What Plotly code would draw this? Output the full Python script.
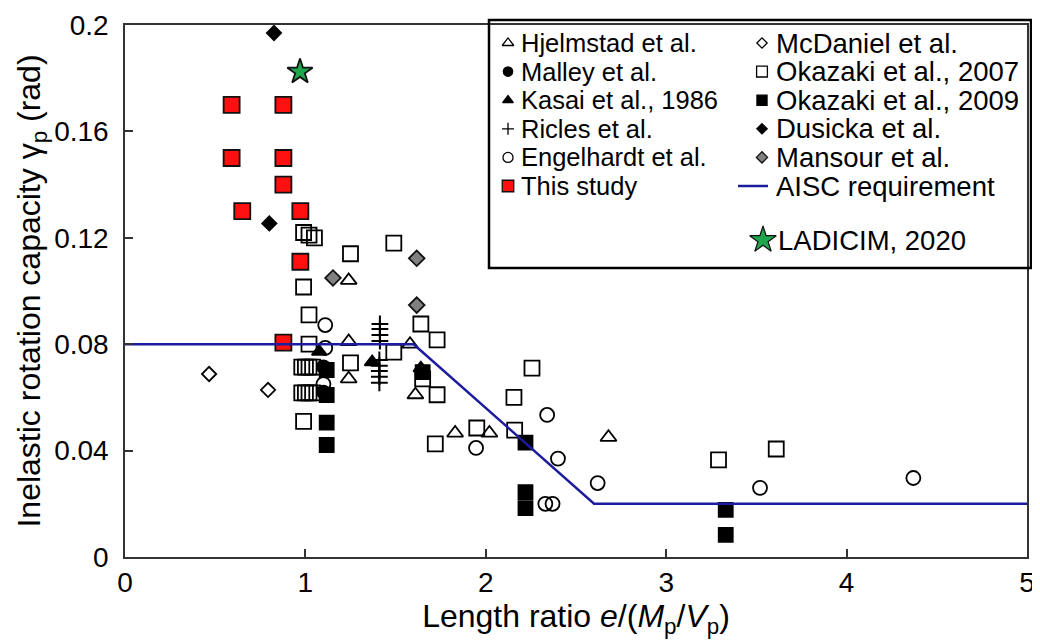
import plotly.graph_objects as go

FONT = "Liberation Sans, Arial, sans-serif"

# ---------------- data ----------------
hjelmstad_x = [1.24, 1.24, 1.24, 1.58, 1.61, 1.83, 2.02, 2.68]
hjelmstad_y = [0.104, 0.081, 0.067, 0.080, 0.061, 0.0466, 0.0466, 0.045]

malley_x = [1.10, 1.10]
malley_y = [0.0715, 0.062]

kasai_x = [1.077, 1.37, 1.64]
kasai_y = [0.0772, 0.0733, 0.071]

ricles_x = [1.413, 1.413, 1.413, 1.413, 1.41, 1.41, 1.41, 1.41, 1.41]
ricles_y = [0.0876, 0.0857, 0.0835, 0.0812, 0.0741, 0.0719, 0.0699, 0.0678, 0.0655]

engelhardt_x = [1.11, 1.11, 1.10, 2.34, 2.40, 1.946, 2.62, 2.33, 2.37, 3.52, 4.37]
engelhardt_y = [0.0872, 0.0786, 0.065, 0.0534, 0.037, 0.041, 0.0278, 0.0200, 0.0200, 0.026, 0.0297]

this_study_x = [0.591, 0.878, 0.591, 0.878, 0.878, 0.650, 0.972, 0.972, 0.878]
this_study_y = [0.170, 0.170, 0.150, 0.150, 0.140, 0.130, 0.130, 0.111, 0.0806]

mcdaniel_x = [0.466, 0.793]
mcdaniel_y = [0.0688, 0.0628]

okazaki07_x = [0.99, 1.02, 1.05, 1.25, 1.49, 0.99, 1.02, 1.02, 1.25, 1.49, 1.64, 1.73,
               1.65, 1.73, 0.99, 1.72, 1.95, 2.256, 2.156, 2.16, 3.29, 3.61,
               0.98, 1.00, 1.02, 1.04, 0.98, 1.00, 1.02, 1.04]
okazaki07_y = [0.122, 0.121, 0.120, 0.114, 0.118, 0.1015, 0.091, 0.080, 0.073, 0.077, 0.0876, 0.0816,
               0.067, 0.061, 0.051, 0.0425, 0.0485, 0.071, 0.060, 0.0477, 0.0365, 0.0406,
               0.0714, 0.0714, 0.0714, 0.0714, 0.0617, 0.0617, 0.0617, 0.0617]

okazaki09_x = [1.118, 1.118, 1.118, 1.118, 1.65, 2.22, 2.22, 2.22, 3.33, 3.33]
okazaki09_y = [0.0703, 0.0609, 0.0505, 0.0421, 0.0695, 0.043, 0.0244, 0.0184, 0.0177, 0.0083]

dusicka_x = [0.826, 0.80]
dusicka_y = [0.197, 0.1254]

mansour_x = [1.153, 1.617, 1.617]
mansour_y = [0.1049, 0.1123, 0.0947]

ladicim_x = [0.970]
ladicim_y = [0.1824]

aisc_x = [0, 1.6, 2.6, 5]
aisc_y = [0.08, 0.08, 0.02, 0.02]

x_ticks = [0, 1, 2, 3, 4, 5]
y_ticks = [0, 0.04, 0.08, 0.12, 0.16, 0.2]
y_ticklabels = ["0", "0.04", "0.08", "0.12", "0.16", "0.2"]

legend_col1 = ["Hjelmstad et al.", "Malley et al.", "Kasai et al., 1986",
               "Ricles et al.", "Engelhardt et al.", "This study"]
legend_col2 = ["McDaniel et al.", "Okazaki et al., 2007", "Okazaki et al., 2009",
               "Dusicka et al.", "Mansour et al.", "AISC requirement"]
legend_extra = "LADICIM, 2020"

# ---------------- styles ----------------
BLUE = "#1c1c9e"
RED = "#ff1010"
GREEN = "#1ea64c"
GRAY = "#808080"

styles = {
    "Hjelmstad et al.": dict(symbol="triangle-up-open", size=14, color="black"),
    "Malley et al.": dict(symbol="circle", size=13, color="black"),
    "Kasai et al., 1986": dict(symbol="triangle-up", size=13, color="black"),
    "Ricles et al.": dict(symbol="cross-thin-open", size=12, color="black"),
    "Engelhardt et al.": dict(symbol="circle-open", size=14, color="black"),
    "This study": dict(symbol="square", size=16, color=RED),
    "McDaniel et al.": dict(symbol="diamond-open", size=11, color="black"),
    "Okazaki et al., 2007": dict(symbol="square-open", size=15, color="black"),
    "Okazaki et al., 2009": dict(symbol="square", size=14, color="black"),
    "Dusicka et al.": dict(symbol="diamond", size=11, color="black"),
    "Mansour et al.": dict(symbol="diamond", size=12, color=GRAY),
    "LADICIM, 2020": dict(symbol="star", size=19, color=GREEN),
}

series = [
    ("Hjelmstad et al.", hjelmstad_x, hjelmstad_y),
    ("McDaniel et al.", mcdaniel_x, mcdaniel_y),
    ("Okazaki et al., 2007", okazaki07_x, okazaki07_y),
    ("Engelhardt et al.", engelhardt_x, engelhardt_y),
    ("Ricles et al.", ricles_x, ricles_y),
    ("Malley et al.", malley_x, malley_y),
    ("Okazaki et al., 2009", okazaki09_x, okazaki09_y),
    ("Kasai et al., 1986", kasai_x, kasai_y),
    ("Dusicka et al.", dusicka_x, dusicka_y),
    ("Mansour et al.", mansour_x, mansour_y),
    ("This study", this_study_x, this_study_y),
    ("LADICIM, 2020", ladicim_x, ladicim_y),
]


def marker_for(name, scale=1.0):
    s = styles[name]
    lw = 2.0 if "cross" in s["symbol"] else 1.8
    return dict(symbol=s["symbol"], size=s["size"] * scale, color=s["color"],
                line=dict(color="#111111" if s["color"] != "black" else "black", width=lw))


fig = go.Figure()

for name, xs, ys in series:
    fig.add_trace(go.Scatter(x=xs, y=ys, mode="markers", name=name, showlegend=False,
                             marker=marker_for(name), cliponaxis=False))

fig.add_trace(go.Scatter(x=aisc_x, y=aisc_y, mode="lines", name="AISC requirement",
                         showlegend=False, line=dict(color=BLUE, width=2.5)))

# ---------------- custom legend on an overlay pixel axis ----------------
# (positions are in page pixels of the 1040x642 view)
row_y0, row_dy = 43, 28.6
col_sym = [508, 762]
col_txt = [519, 774]
col_fs = [25.5, 27.5]

for ci, col in enumerate([legend_col1, legend_col2]):
    for ri, label in enumerate(col):
        yy = row_y0 + ri * row_dy
        if label == "AISC requirement":
            fig.add_trace(go.Scatter(x=[col_sym[ci] - 24, col_sym[ci] + 6], y=[yy, yy],
                                     mode="lines", xaxis="x2", yaxis="y2", showlegend=False,
                                     line=dict(color=BLUE, width=2.5), hoverinfo="skip"))
        else:
            m = marker_for(label, 0.72)
            m["line"]["width"] = 1.3
            fig.add_trace(go.Scatter(x=[col_sym[ci]], y=[yy], mode="markers", xaxis="x2",
                                     yaxis="y2", showlegend=False, marker=m, hoverinfo="skip",
                                     cliponaxis=False))
        fig.add_annotation(x=col_txt[ci], y=yy, xref="x2", yref="y2", text=label,
                           showarrow=False, xanchor="left", yanchor="middle",
                           font=dict(family=FONT, size=col_fs[ci], color="black"))

star_y = 240
m = marker_for(legend_extra, 1.05)
m["line"]["width"] = 1.2
fig.add_trace(go.Scatter(x=[763], y=[star_y], mode="markers", xaxis="x2", yaxis="y2",
                         showlegend=False, marker=m, hoverinfo="skip", cliponaxis=False))
fig.add_annotation(x=776, y=star_y, xref="x2", yref="y2", text=legend_extra,
                   showarrow=False, xanchor="left", yanchor="middle",
                   font=dict(family=FONT, size=col_fs[1], color="black"))

# page layout: the browser's default 8px body margin offsets the figure
OFF = 8
W, H = 1040 - OFF, 642 - OFF
L, R, T, B = 125, 1027, 25, 557   # plot area in page pixels


def px2paper_x(p): return (p - L) / (R - L)
def px2paper_y(p): return (B - p) / (B - T)


fig.add_shape(type="rect", xref="paper", yref="paper",
              x0=px2paper_x(489), x1=px2paper_x(1031),
              y0=px2paper_y(268), y1=px2paper_y(20),
              line=dict(color="black", width=2.5), fillcolor="rgba(0,0,0,0)", layer="above")

axis_common = dict(showgrid=False, zeroline=False, showline=True, linecolor="#333333",
                   linewidth=1.5, mirror=True, ticks="inside", ticklen=8, tickwidth=1.5,
                   tickcolor="#333333", automargin=False,
                   tickfont=dict(family=FONT, size=28, color="black"))

fig.update_layout(
    width=W, height=H,
    margin=dict(l=L - OFF, r=1040 - R, t=T - OFF, b=642 - B),
    plot_bgcolor="white", paper_bgcolor="white",
    font=dict(family=FONT, color="black"),
    showlegend=False,
    xaxis=dict(range=[0, 5], tickvals=x_ticks, ticktext=[str(v) for v in x_ticks],
               title=dict(text="Length ratio <i>e</i>/(<i>M</i><sub>p</sub>/<i>V</i><sub>p</sub>)",
                          font=dict(family=FONT, size=32), standoff=4),
               **axis_common),
    yaxis=dict(range=[0, 0.2], tickvals=y_ticks, ticktext=y_ticklabels, ticklabelstandoff=9,
               title=dict(text="Inelastic rotation capacity γ<sub>p</sub> (rad)",
                          font=dict(family=FONT, size=32), standoff=4),
               **axis_common),
    xaxis2=dict(range=[L, R], overlaying="x", anchor="y2", visible=False, fixedrange=True,
                automargin=False),
    yaxis2=dict(range=[B, T], overlaying="y", anchor="x2", visible=False, fixedrange=True,
                automargin=False),
)

fig.write_html("out.html")
